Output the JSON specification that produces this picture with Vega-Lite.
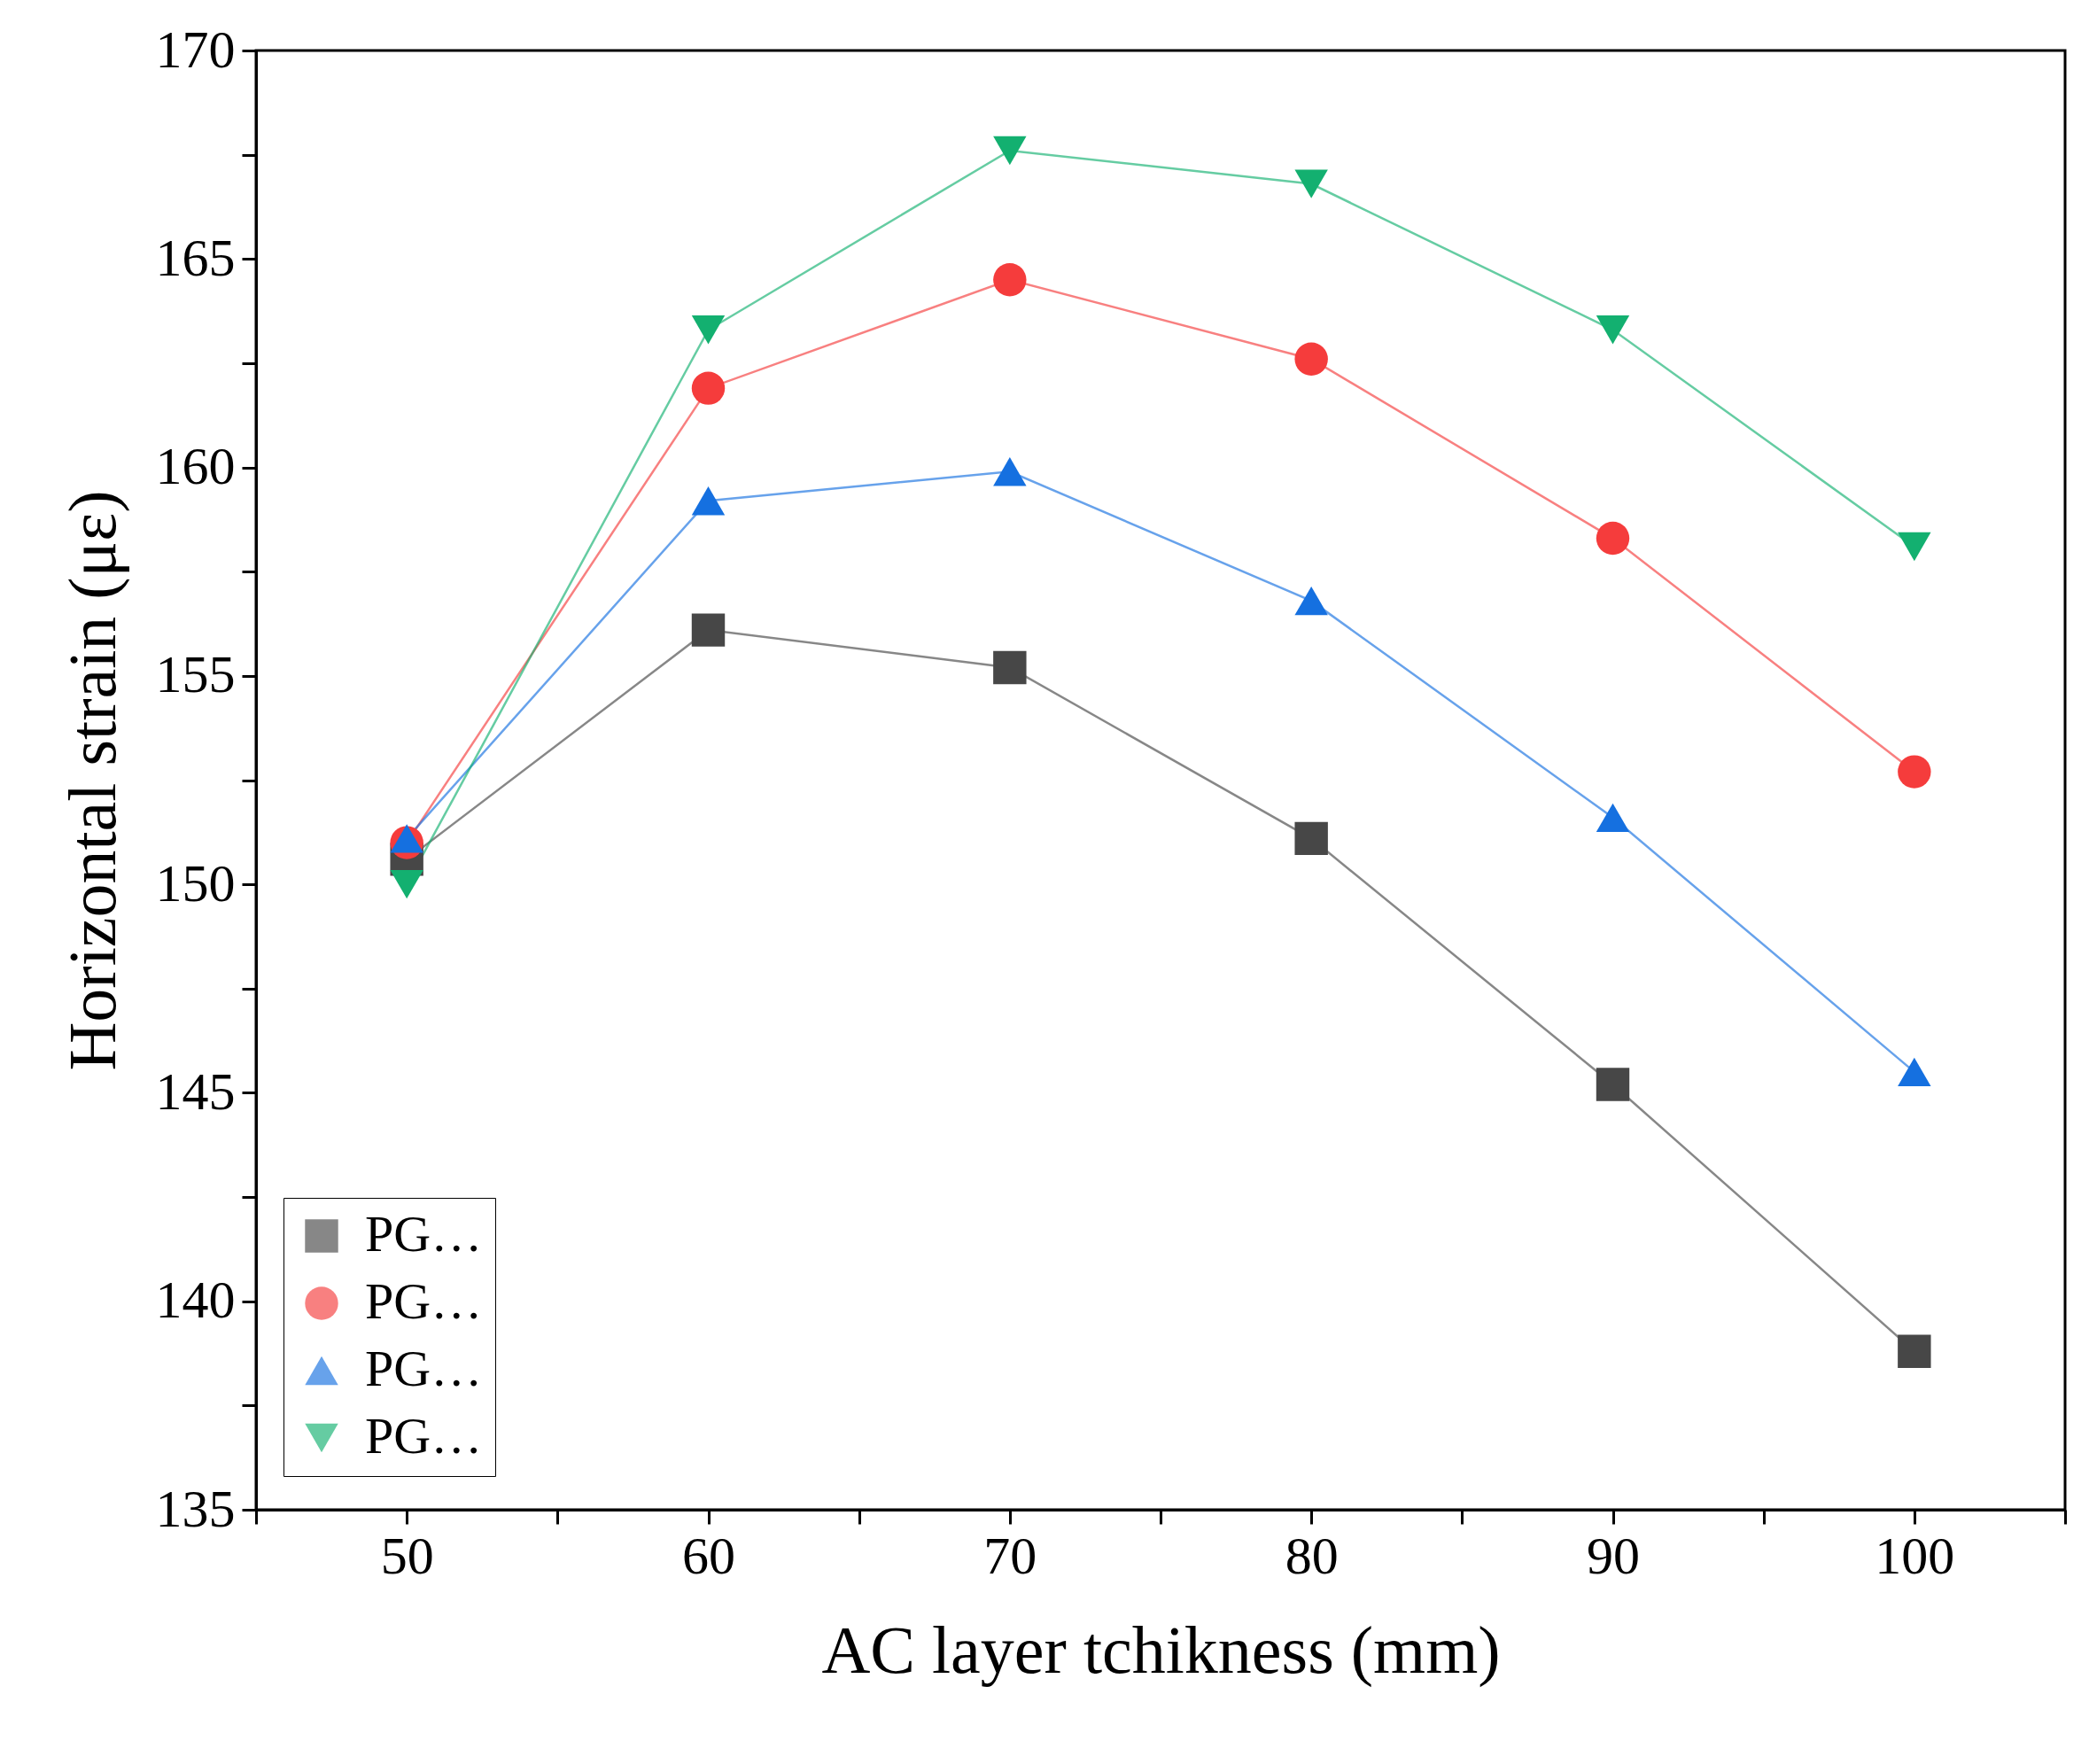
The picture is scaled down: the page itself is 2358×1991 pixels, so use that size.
{
  "$schema": "https://vega.github.io/schema/vega-lite/v6.json",
  "width": 2042,
  "height": 1647,
  "autosize": {"type": "none"},
  "padding": {"left": 289, "top": 57, "right": 27, "bottom": 287},
  "background": "white",
  "config": {
    "font": "Liberation Serif",
    "view": {"stroke": "black", "strokeWidth": 3},
    "axis": {"domainColor": "black", "domainWidth": 3, "tickColor": "black", "tickWidth": 3, "tickSize": 16, "grid": false, "labelFont": "Liberation Serif", "titleFont": "Liberation Serif", "labelColor": "black", "titleColor": "black", "labelFontSize": 60, "titleFontSize": 76, "titleFontWeight": "normal"}
  },
  "data": {
    "values": [
      {"t": 50, "s": "PG76-22-GT-13", "v": 150.6},
      {"t": 60, "s": "PG76-22-GT-13", "v": 156.1},
      {"t": 70, "s": "PG76-22-GT-13", "v": 155.2},
      {"t": 80, "s": "PG76-22-GT-13", "v": 151.1},
      {"t": 90, "s": "PG76-22-GT-13", "v": 145.2},
      {"t": 100, "s": "PG76-22-GT-13", "v": 138.8},
      {"t": 50, "s": "PG94-GT-13", "v": 151.0},
      {"t": 60, "s": "PG94-GT-13", "v": 161.9},
      {"t": 70, "s": "PG94-GT-13", "v": 164.5},
      {"t": 80, "s": "PG94-GT-13", "v": 162.6},
      {"t": 90, "s": "PG94-GT-13", "v": 158.3},
      {"t": 100, "s": "PG94-GT-13", "v": 152.7},
      {"t": 50, "s": "PG76-22-BBSG 0/14", "v": 151.1},
      {"t": 60, "s": "PG76-22-BBSG 0/14", "v": 159.2},
      {"t": 70, "s": "PG76-22-BBSG 0/14", "v": 159.9},
      {"t": 80, "s": "PG76-22-BBSG 0/14", "v": 156.8},
      {"t": 90, "s": "PG76-22-BBSG 0/14", "v": 151.6},
      {"t": 100, "s": "PG76-22-BBSG 0/14", "v": 145.5},
      {"t": 50, "s": "PG94-BBSG 0/14", "v": 150.0},
      {"t": 60, "s": "PG94-BBSG 0/14", "v": 163.3},
      {"t": 70, "s": "PG94-BBSG 0/14", "v": 167.6},
      {"t": 80, "s": "PG94-BBSG 0/14", "v": 166.8},
      {"t": 90, "s": "PG94-BBSG 0/14", "v": 163.3},
      {"t": 100, "s": "PG94-BBSG 0/14", "v": 158.1}
    ]
  },
  "encoding": {
    "x": {"field": "t", "type": "quantitative", "scale": {"domain": [45, 105], "nice": false, "zero": false},
      "axis": {"title": "AC layer tchikness (mm)", "values": [45, 50, 55, 60, 65, 70, 75, 80, 85, 90, 95, 100, 105],
        "labelExpr": "datum.value % 10 === 0 ? datum.label : ''", "labelPadding": 8, "titlePadding": 40}},
    "y": {"field": "v", "type": "quantitative", "scale": {"domain": [135, 170], "nice": false, "zero": false},
      "axis": {"title": "Horizontal strain (με)", "values": [135, 137.5, 140, 142.5, 145, 147.5, 150, 152.5, 155, 157.5, 160, 162.5, 165, 167.5, 170],
        "labelExpr": "datum.value % 5 === 0 ? datum.label : ''", "labelPadding": 8, "titlePadding": 30}},
    "color": {"field": "s", "type": "nominal",
      "scale": {"domain": ["PG76-22-GT-13", "PG94-GT-13", "PG76-22-BBSG 0/14", "PG94-BBSG 0/14"], "range": ["#474747", "#f53c3c", "#1570e0", "#13b070"]},
      "legend": {"title": null, "orient": "none", "legendX": 31, "legendY": 1295, "labelFontSize": 58, "labelFont": "Liberation Serif", "labelColor": "black", "symbolSize": 1400, "rowPadding": 18, "padding": 14, "strokeColor": "black", "fillColor": "white", "symbolStrokeWidth": 0, "labelOffset": 20, "offset": 0}},
    "shape": {"field": "s", "type": "nominal",
      "scale": {"domain": ["PG76-22-GT-13", "PG94-GT-13", "PG76-22-BBSG 0/14", "PG94-BBSG 0/14"], "range": ["square", "circle", "triangle-up", "triangle-down"]},
      "legend": null}
  },
  "layer": [
    {"mark": {"type": "line", "strokeWidth": 2.5, "opacity": 0.65}},
    {"mark": {"type": "point", "filled": true, "opacity": 1, "size": 1400}}
  ]
}
